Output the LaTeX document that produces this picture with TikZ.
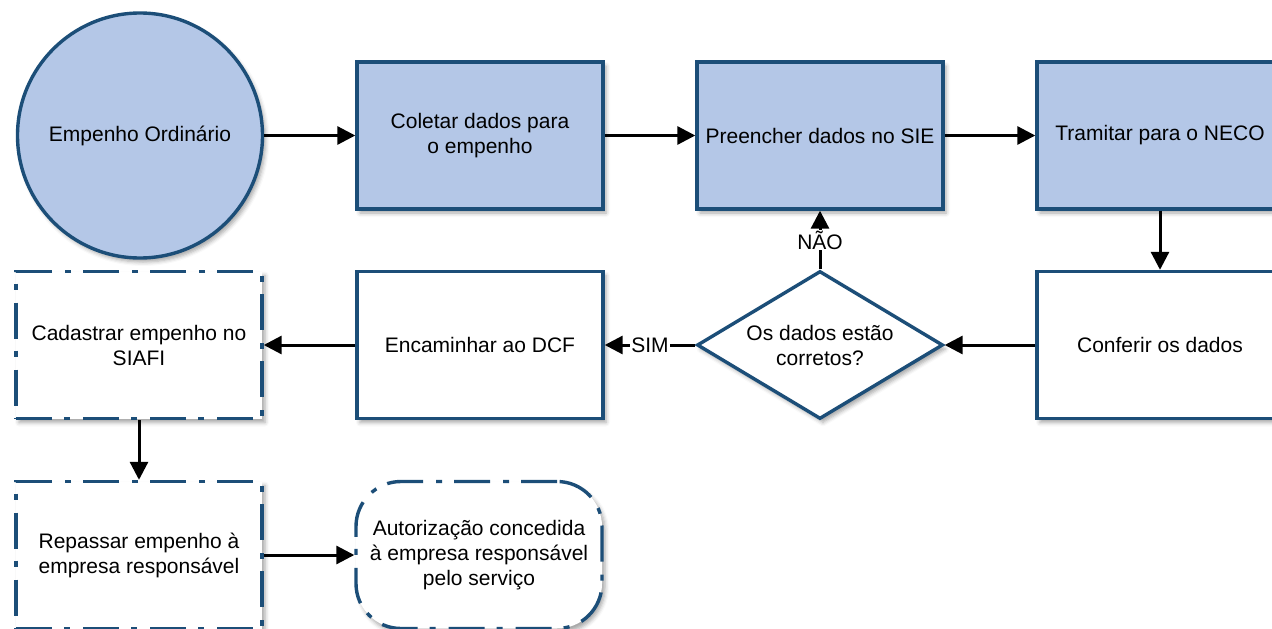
\documentclass[tikz,border=0pt]{standalone}
\usepackage{fontspec}
\setmainfont{Liberation Sans}
\usetikzlibrary{shapes.geometric,arrows.meta,shadows.blur}
\definecolor{bfill}{HTML}{B4C7E7}
\definecolor{bdraw}{HTML}{1C4E78}
\begin{document}
\begin{tikzpicture}[x=1pt,y=-1pt,
  font=\fontsize{21}{25}\selectfont,
  base/.style={draw=bdraw, line width=3.4pt, align=center, inner sep=0pt, fill=white,
    blur shadow={shadow xshift=3pt, shadow yshift=-4pt, shadow blur radius=4pt, shadow opacity=35}},
  proc/.style={base, rectangle, minimum width=246pt, minimum height=147pt},
  bluefill/.style={fill=bfill},
  dashdot/.style={dash pattern=on 36pt off 12pt on 6pt off 13pt},
  circ/.style={base, circle, minimum size=245pt, fill=bfill},
  decide/.style={base, diamond, shape aspect=1.66, minimum width=246pt, minimum height=148pt},
  term/.style={proc, rounded corners=45pt, dashdot},
  arr/.style={-{Triangle[length=18pt,width=18pt]}, line width=3pt},
  lab/.style={fill=white, inner sep=1pt}]
\useasboundingbox (0,0) rectangle (1272,629);
\clip (0,0) rectangle (1272,629);
\node[circ] (c) at (140,135.5) {Empenho Ordinário};
\node[proc,bluefill] (a) at (480,135.5) {Coletar dados para\\o empenho};
\node[proc,bluefill] (b) at (820,135.5) {Preencher dados no SIE};
\node[proc,bluefill] (t) at (1160,135.5) {Tramitar para o NECO};
\node[proc] (cf) at (1160,345) {Conferir os dados};
\node[decide] (d) at (820,345) {Os dados estão\\corretos?};
\node[proc] (e) at (480,345) {Encaminhar ao DCF};
\node[proc,dashdot] (s) at (139,345) {Cadastrar empenho no\\SIAFI};
\node[proc,dashdot] (r) at (139,555) {Repassar empenho à\\empresa responsável};
\node[term] (z) at (479,555) {Autorização concedida\\à empresa responsável\\pelo serviço};
\draw[arr] (c.east) -- (a.west);
\draw[arr] (a.east) -- (b.west);
\draw[arr] (b.east) -- (t.west);
\draw[arr] (t.south) -- (cf.north);
\draw[arr] (cf.west) -- (d.east);
\draw[arr] (d.west) -- node[lab] {SIM} (e.east);
\draw[arr] (d.north) -- node[lab] {NÃO} (b.south);
\draw[arr] (e.west) -- (s.east);
\draw[arr] (s.south) -- (r.north);
\draw[arr] (r.east) -- (z.west);
\end{tikzpicture}
\end{document}
